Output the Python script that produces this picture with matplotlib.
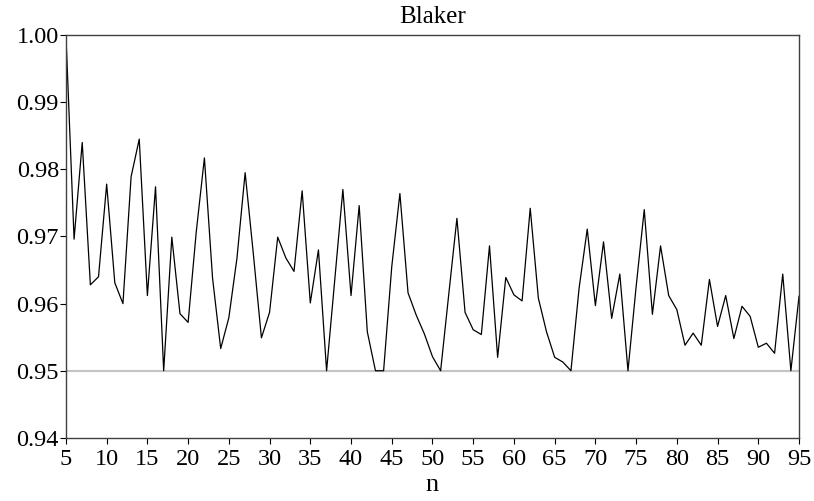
import matplotlib
matplotlib.use("Agg")
import matplotlib.pyplot as plt
import numpy as np

# coverage probability of the Blaker interval, nominal level 0.95
n = np.arange(5, 96)
coverage = [
    1.0000, 0.9696, 0.9840, 0.9628, 0.9640, 0.9778, 0.9631, 0.9600, 0.9789, 0.9845,
    0.9612, 0.9774, 0.9500, 0.9699, 0.9585, 0.9572, 0.9707, 0.9817, 0.9638, 0.9533,
    0.9579, 0.9668, 0.9795, 0.9675, 0.9549, 0.9587, 0.9699, 0.9668, 0.9648, 0.9768,
    0.9601, 0.9680, 0.9500, 0.9635, 0.9770, 0.9612, 0.9746, 0.9558, 0.9500, 0.9500,
    0.9655, 0.9764, 0.9616, 0.9583, 0.9555, 0.9521, 0.9500, 0.9614, 0.9727, 0.9587,
    0.9561, 0.9554, 0.9686, 0.9520, 0.9639, 0.9613, 0.9604, 0.9742, 0.9608, 0.9558,
    0.9520, 0.9513, 0.9500, 0.9623, 0.9711, 0.9597, 0.9692, 0.9578, 0.9644, 0.9500,
    0.9625, 0.9740, 0.9584, 0.9686, 0.9612, 0.9591, 0.9538, 0.9556, 0.9538, 0.9636,
    0.9566, 0.9612, 0.9548, 0.9596, 0.9581, 0.9535, 0.9541, 0.9526, 0.9644, 0.9500,
    0.9611,
]
nominal = 0.95

plt.rcParams['font.family'] = ['Liberation Serif', 'DejaVu Serif']

fig = plt.figure(figsize=(8.14, 5.01), dpi=100)
ax = fig.add_axes([0.081, 0.126, 0.9006, 0.804])

ax.axhline(nominal, color='#c4c4c4', lw=1.6, zorder=1)
ax.plot(n, coverage, color='black', lw=0.9, zorder=2)

ax.set_xlim(5, 95)
ax.set_ylim(0.94, 1.00)
ax.set_xticks(np.arange(5, 96, 5))
ax.set_yticks(np.arange(0.94, 1.001, 0.01))
ax.yaxis.set_major_formatter(matplotlib.ticker.FormatStrFormatter('%.2f'))
ax.tick_params(direction='out', length=4, width=0.8, labelsize=17.5,
               top=False, right=False)
ax.tick_params(axis='x', pad=4)
ax.tick_params(axis='y', pad=1)
for s in ax.spines.values():
    s.set_color('#404040')
    s.set_linewidth(1.0)

ax.set_title('Blaker', fontsize=18, pad=9)
ax.set_xlabel('n', fontsize=19, labelpad=3)

fig.savefig('out.png', dpi=100)
